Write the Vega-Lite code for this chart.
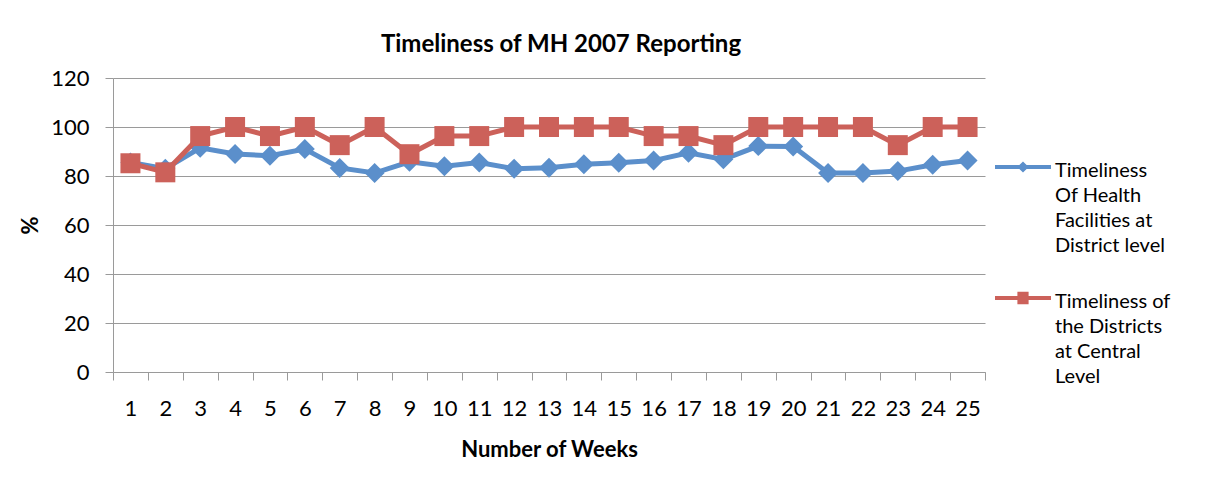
{
  "$schema": "https://vega.github.io/schema/vega-lite/v6.json",
  "width": 872,
  "height": 294,
  "autosize": {"type": "none"},
  "padding": {"left": 113, "top": 78, "right": 245, "bottom": 121},
  "background": "white",
  "title": {"text": "Timeliness of MH 2007 Reporting", "fontSize": 24, "fontWeight": "bold", "font": "Lato", "color": "#000", "anchor": "middle", "dx": 12, "offset": 10},
  "data": {"values": [
    {"week": 1, "series": "Timeliness Of Health Facilities at District level", "value": 85.5},
    {"week": 2, "series": "Timeliness Of Health Facilities at District level", "value": 83},
    {"week": 3, "series": "Timeliness Of Health Facilities at District level", "value": 91.5},
    {"week": 4, "series": "Timeliness Of Health Facilities at District level", "value": 89},
    {"week": 5, "series": "Timeliness Of Health Facilities at District level", "value": 88.3},
    {"week": 6, "series": "Timeliness Of Health Facilities at District level", "value": 91},
    {"week": 7, "series": "Timeliness Of Health Facilities at District level", "value": 83.3},
    {"week": 8, "series": "Timeliness Of Health Facilities at District level", "value": 81.2},
    {"week": 9, "series": "Timeliness Of Health Facilities at District level", "value": 85.8},
    {"week": 10, "series": "Timeliness Of Health Facilities at District level", "value": 84},
    {"week": 11, "series": "Timeliness Of Health Facilities at District level", "value": 85.5},
    {"week": 12, "series": "Timeliness Of Health Facilities at District level", "value": 83},
    {"week": 13, "series": "Timeliness Of Health Facilities at District level", "value": 83.4},
    {"week": 14, "series": "Timeliness Of Health Facilities at District level", "value": 84.8},
    {"week": 15, "series": "Timeliness Of Health Facilities at District level", "value": 85.4},
    {"week": 16, "series": "Timeliness Of Health Facilities at District level", "value": 86.3},
    {"week": 17, "series": "Timeliness Of Health Facilities at District level", "value": 89.5},
    {"week": 18, "series": "Timeliness Of Health Facilities at District level", "value": 86.8},
    {"week": 19, "series": "Timeliness Of Health Facilities at District level", "value": 92.2},
    {"week": 20, "series": "Timeliness Of Health Facilities at District level", "value": 92},
    {"week": 21, "series": "Timeliness Of Health Facilities at District level", "value": 81.2},
    {"week": 22, "series": "Timeliness Of Health Facilities at District level", "value": 81.2},
    {"week": 23, "series": "Timeliness Of Health Facilities at District level", "value": 82},
    {"week": 24, "series": "Timeliness Of Health Facilities at District level", "value": 84.6},
    {"week": 25, "series": "Timeliness Of Health Facilities at District level", "value": 86.3},
    {"week": 1, "series": "Timeliness of the Districts at Central Level", "value": 85.2},
    {"week": 2, "series": "Timeliness of the Districts at Central Level", "value": 81.5},
    {"week": 3, "series": "Timeliness of the Districts at Central Level", "value": 96.3},
    {"week": 4, "series": "Timeliness of the Districts at Central Level", "value": 100},
    {"week": 5, "series": "Timeliness of the Districts at Central Level", "value": 96.3},
    {"week": 6, "series": "Timeliness of the Districts at Central Level", "value": 100},
    {"week": 7, "series": "Timeliness of the Districts at Central Level", "value": 92.6},
    {"week": 8, "series": "Timeliness of the Districts at Central Level", "value": 100},
    {"week": 9, "series": "Timeliness of the Districts at Central Level", "value": 88.9},
    {"week": 10, "series": "Timeliness of the Districts at Central Level", "value": 96.3},
    {"week": 11, "series": "Timeliness of the Districts at Central Level", "value": 96.3},
    {"week": 12, "series": "Timeliness of the Districts at Central Level", "value": 100},
    {"week": 13, "series": "Timeliness of the Districts at Central Level", "value": 100},
    {"week": 14, "series": "Timeliness of the Districts at Central Level", "value": 100},
    {"week": 15, "series": "Timeliness of the Districts at Central Level", "value": 100},
    {"week": 16, "series": "Timeliness of the Districts at Central Level", "value": 96.3},
    {"week": 17, "series": "Timeliness of the Districts at Central Level", "value": 96.3},
    {"week": 18, "series": "Timeliness of the Districts at Central Level", "value": 92.6},
    {"week": 19, "series": "Timeliness of the Districts at Central Level", "value": 100},
    {"week": 20, "series": "Timeliness of the Districts at Central Level", "value": 100},
    {"week": 21, "series": "Timeliness of the Districts at Central Level", "value": 100},
    {"week": 22, "series": "Timeliness of the Districts at Central Level", "value": 100},
    {"week": 23, "series": "Timeliness of the Districts at Central Level", "value": 92.6},
    {"week": 24, "series": "Timeliness of the Districts at Central Level", "value": 100},
    {"week": 25, "series": "Timeliness of the Districts at Central Level", "value": 100}
  ]},
  "encoding": {
    "x": {"field": "week", "type": "ordinal",
      "scale": {"paddingInner": 0, "paddingOuter": 0},
      "axis": {"title": "Number of Weeks", "labelAngle": 0, "labelFontSize": 22, "titleFontSize": 22, "titleFontWeight": "bold", "tickBand": "extent", "tickSize": 8, "tickColor": "#9A9A9A", "domainColor": "#9A9A9A", "labelPadding": 18, "titlePadding": 20, "grid": false}},
    "y": {"field": "value", "type": "quantitative",
      "scale": {"domain": [0, 120]},
      "axis": {"title": "%", "values": [0, 20, 40, 60, 80, 100, 120], "labelFontSize": 22, "titleFontSize": 22, "titleFontWeight": "bold", "tickSize": 8, "tickColor": "#9A9A9A", "domainColor": "#9A9A9A", "gridColor": "#9A9A9A", "labelPadding": 16, "titlePadding": 8, "titleAngle": 270}}
  },
  "layer": [
    {"transform": [{"filter": "datum.series === 'Timeliness Of Health Facilities at District level'"}],
     "mark": {"type": "line", "color": "#5B8FCB", "strokeWidth": 5}},
    {"transform": [{"filter": "datum.series === 'Timeliness Of Health Facilities at District level'"}],
     "mark": {"type": "point", "shape": "diamond", "size": 400, "filled": true, "opacity": 1, "color": "#5B8FCB"}},
    {"transform": [{"filter": "datum.series === 'Timeliness of the Districts at Central Level'"}],
     "mark": {"type": "line", "color": "#CC615A", "strokeWidth": 5}},
    {"transform": [{"filter": "datum.series === 'Timeliness of the Districts at Central Level'"}],
     "mark": {"type": "point", "shape": "square", "size": 400, "filled": true, "opacity": 1, "color": "#CC615A"}},
    {"mark": {"type": "point", "filled": true, "opacity": 0},
     "encoding": {
       "color": {"field": "series", "type": "nominal", "scale": {"range": ["#5B8FCB", "#CC615A"]},
         "legend": {
           "orient": "none", "legendX": 882, "legendY": 61, "title": null,
           "labelExpr": "datum.label === 'Timeliness Of Health Facilities at District level' ? ['Timeliness', 'Of Health', 'Facilities at', 'District level'] : ['Timeliness of', 'the Districts', 'at Central', 'Level']",
           "symbolSize": 3136, "symbolStrokeWidth": 0, "symbolOpacity": 1,
           "rowPadding": 14,
           "encode": {"labels": {"update": {"lineHeight": {"value": 25}, "dy": {"value": -6}}}}
         }},
       "shape": {"field": "series", "type": "nominal", "scale": {"range": [
         "M-1,-0.07H-0.13L0,-0.2L0.13,-0.07H1V0.07H0.13L0,0.2L-0.13,0.07H-1Z",
         "M-1,-0.07H-0.2V-0.22H0.2V-0.07H1V0.07H0.2V0.22H-0.2V0.07H-1Z"]}},
       "size": {"value": 3136}
     }}
  ],
  "resolve": {"legend": {"color": "shared", "shape": "shared"}},
  "config": {
    "font": "Lato",
    "view": {"stroke": null},
    "legend": {
      "labelFont": "Lato", "labelFontSize": 20, "labelColor": "#000", "labelLimit": 300,
      "symbolSize": 3136, "symbolStrokeWidth": 0, "symbolOpacity": 1,
      "labelOffset": 4, "labelBaseline": "top"
    },
    "axis": {"labelFont": "Lato", "titleFont": "Lato", "labelColor": "#000", "titleColor": "#000"}
  }
}
